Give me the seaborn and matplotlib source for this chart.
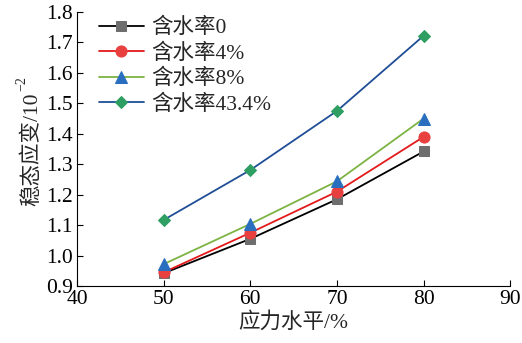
import matplotlib
matplotlib.use("Agg")
import matplotlib.pyplot as plt
import seaborn as sns
import pandas as pd

stress_levels = [50, 60, 70, 80]
series_names = ["含水率0", "含水率4%", "含水率8%", "含水率43.4%"]
strain_0 = [0.942, 1.055, 1.185, 1.342]
strain_4 = [0.945, 1.075, 1.21, 1.39]
strain_8 = [0.972, 1.104, 1.244, 1.45]
strain_434 = [1.117, 1.281, 1.475, 1.722]
x_ticks = [40, 50, 60, 70, 80, 90]
y_ticks = [0.9, 1.0, 1.1, 1.2, 1.3, 1.4, 1.5, 1.6, 1.7, 1.8]

sns.set_theme(style="ticks")
plt.rcParams['font.family'] = ['Liberation Serif', 'Noto Sans CJK SC']

line_colors = ["#000000", "#e31a1c", "#7cb342", "#1f4e96"]
marker_faces = ["#6e6e6e", "#e8403f", "#2a6fbf", "#2e9e62"]
markers = ["s", "o", "^", "D"]
msizes = [6.5, 8, 8.5, 6.5]

fig = plt.figure(figsize=(5.22, 3.43), dpi=100)
ax = fig.add_axes([0.1475, 0.166, 0.83, 0.799])

all_vals = [strain_0, strain_4, strain_8, strain_434]
for name, vals, lc, mf, mk, ms in zip(series_names, all_vals, line_colors, marker_faces, markers, msizes):
    df = pd.DataFrame({"x": stress_levels, "y": vals})
    sns.lineplot(data=df, x="x", y="y", ax=ax, color=lc, linewidth=1.3,
                 marker=mk, markersize=ms, markerfacecolor=mf, markeredgecolor=mf,
                 label=name)

ax.set_xlim(40, 90)
ax.set_ylim(0.9, 1.8)
ax.set_xticks(x_ticks)
ax.set_yticks(y_ticks)
ax.set_xticklabels([str(t) for t in x_ticks])
ax.set_yticklabels([f"{t:.1f}" for t in y_ticks])
ax.tick_params(direction="in", length=4, width=0.8, labelsize=15.5, pad=3, colors="#000000")
for s in ["left", "bottom"]:
    ax.spines[s].set_color("#000000")
    ax.spines[s].set_linewidth(0.8)
sns.despine(ax=ax)

ax.set_xlabel("应力水平/%", fontsize=15.5, labelpad=2)
ylab = ax.set_ylabel("稳态应变/10", fontsize=15.5, labelpad=3)

leg = ax.legend(loc="upper left", bbox_to_anchor=(0.02, 1.025), frameon=False,
                fontsize=15.5, handlelength=2.1, handletextpad=0.35,
                labelspacing=0.24, borderaxespad=0.2)

# superscript exponent next to the rotated y label
fig.canvas.draw()
bb = ylab.get_window_extent()
fig.text(bb.x0 + 7, bb.y1 + 1, "−2", transform=None, fontsize=10, rotation=90,
         ha="right", va="bottom", family=['Liberation Serif', 'DejaVu Sans'])

fig.savefig("out.png", dpi=100)
